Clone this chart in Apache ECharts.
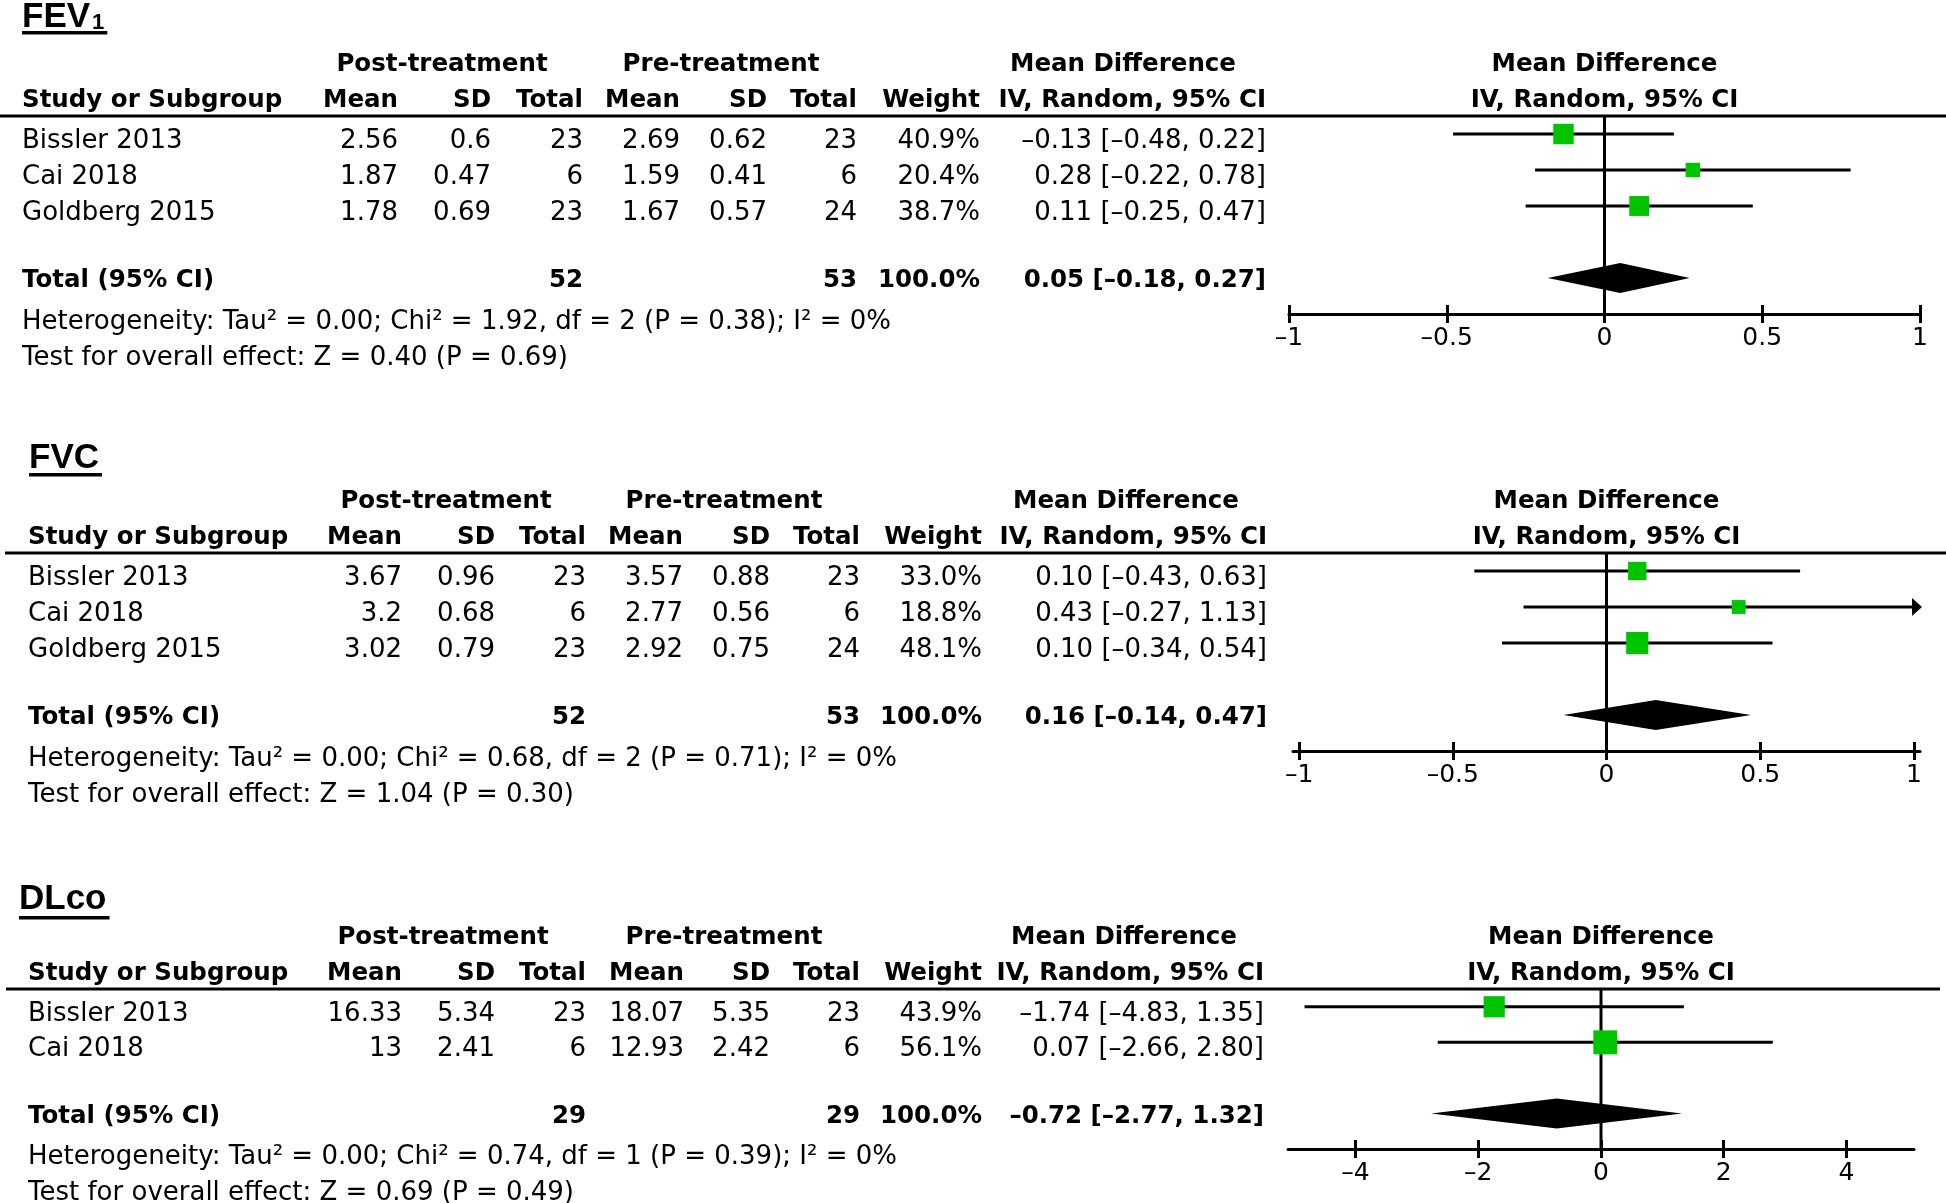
<!DOCTYPE html>
<html><head><meta charset="utf-8">
<script src="https://cdn.jsdelivr.net/npm/echarts@6/dist/echarts.min.js"></script>
<style>html,body{margin:0;padding:0;background:#fff}#c{width:1946px;height:1203px}</style>
</head><body><div id="c"></div><script>
// ---------------- DATA ----------------
// FEV1
const fevStudies  = ['Bissler 2013', 'Cai 2018', 'Goldberg 2015'];
const fevPostMean = [2.56, 1.87, 1.78];
const fevPostSD   = [0.6, 0.47, 0.69];
const fevPostN    = [23, 6, 23];
const fevPreMean  = [2.69, 1.59, 1.67];
const fevPreSD    = [0.62, 0.41, 0.57];
const fevPreN     = [23, 6, 24];
const fevWeight   = [40.9, 20.4, 38.7];
const fevMD       = [-0.13, 0.28, 0.11];
const fevLo       = [-0.48, -0.22, -0.25];
const fevHi       = [0.22, 0.78, 0.47];
const fevTotal    = [52, 53, 0.05, -0.18, 0.27]; // postN, preN, MD, lo, hi
const fevHet      = 'Heterogeneity: Tau² = 0.00; Chi² = 1.92, df = 2 (P = 0.38); I² = 0%';
const fevTest     = 'Test for overall effect: Z = 0.40 (P = 0.69)';
const fevTicks    = [-1, -0.5, 0, 0.5, 1];

// FVC
const fvcStudies  = ['Bissler 2013', 'Cai 2018', 'Goldberg 2015'];
const fvcPostMean = [3.67, 3.2, 3.02];
const fvcPostSD   = [0.96, 0.68, 0.79];
const fvcPostN    = [23, 6, 23];
const fvcPreMean  = [3.57, 2.77, 2.92];
const fvcPreSD    = [0.88, 0.56, 0.75];
const fvcPreN     = [23, 6, 24];
const fvcWeight   = [33.0, 18.8, 48.1];
const fvcMD       = [0.10, 0.43, 0.10];
const fvcLo       = [-0.43, -0.27, -0.34];
const fvcHi       = [0.63, 1.13, 0.54];
const fvcTotal    = [52, 53, 0.16, -0.14, 0.47];
const fvcHet      = 'Heterogeneity: Tau² = 0.00; Chi² = 0.68, df = 2 (P = 0.71); I² = 0%';
const fvcTest     = 'Test for overall effect: Z = 1.04 (P = 0.30)';
const fvcTicks    = [-1, -0.5, 0, 0.5, 1];

// DLco
const dlStudies  = ['Bissler 2013', 'Cai 2018'];
const dlPostMean = [16.33, 13];
const dlPostSD   = [5.34, 2.41];
const dlPostN    = [23, 6];
const dlPreMean  = [18.07, 12.93];
const dlPreSD    = [5.35, 2.42];
const dlPreN     = [23, 6];
const dlWeight   = [43.9, 56.1];
const dlMD       = [-1.74, 0.07];
const dlLo       = [-4.83, -2.66];
const dlHi       = [1.35, 2.80];
const dlTotal    = [29, 29, -0.72, -2.77, 1.32];
const dlHet      = 'Heterogeneity: Tau² = 0.00; Chi² = 0.74, df = 1 (P = 0.39); I² = 0%';
const dlTest     = 'Test for overall effect: Z = 0.69 (P = 0.49)';
const dlTicks    = [-4, -2, 0, 2, 4];

const colHeaders = ['Mean', 'SD', 'Total', 'Mean', 'SD', 'Total', 'Weight'];

// ---------------- LAYOUT ----------------
const panels = [
  { title: 'FEV', sub: '1', studies: fevStudies, cols: [fevPostMean, fevPostSD, fevPostN, fevPreMean, fevPreSD, fevPreN],
    weight: fevWeight, md: fevMD, lo: fevLo, hi: fevHi, total: fevTotal, het: fevHet, test: fevTest, ticks: fevTicks,
    axMin: -1, axMax: 1,
    L: { titleX: 22, titleY: 17, ulY: 31, gridLeft: 1289, gridWidth: 631, lineY: 116, axisY: 314, studyX: 22,
         colX: [398, 491, 583, 680, 767, 857, 980], ciX: 1266, postC: 442, preC: 721, mdC: 1123, lineX0: 0, lineX1: 1946 } },
  { title: 'FVC', sub: '', studies: fvcStudies, cols: [fvcPostMean, fvcPostSD, fvcPostN, fvcPreMean, fvcPreSD, fvcPreN],
    weight: fvcWeight, md: fvcMD, lo: fvcLo, hi: fvcHi, total: fvcTotal, het: fvcHet, test: fvcTest, ticks: fvcTicks,
    axMin: -1.02, axMax: 1.02,
    L: { titleX: 29, titleY: 458, ulY: 473, gridLeft: 1293, gridWidth: 627, lineY: 553, axisY: 751, studyX: 28,
         colX: [402, 495, 586, 683, 770, 860, 982], ciX: 1267, postC: 446, preC: 724, mdC: 1126, lineX0: 5, lineX1: 1946 } },
  { title: 'DLco', sub: '', studies: dlStudies, cols: [dlPostMean, dlPostSD, dlPostN, dlPreMean, dlPreSD, dlPreN],
    weight: dlWeight, md: dlMD, lo: dlLo, hi: dlHi, total: dlTotal, het: dlHet, test: dlTest, ticks: dlTicks,
    axMin: -5.1, axMax: 5.1,
    L: { titleX: 19, titleY: 899, ulY: 916, gridLeft: 1288, gridWidth: 626, lineY: 989, axisY: 1149, studyX: 28,
         colX: [402, 495, 586, 684, 770, 860, 982], ciX: 1264, postC: 443, preC: 724, mdC: 1124, lineX0: 6, lineX1: 1940 } }
];

const TXT_DY = 3;
const REG = '26px "DejaVu Sans"';
const BOLD = 'bold 24.5px "DejaVu Sans"';
const TITLE = 'bold 35px "Liberation Sans"';
const SUB = 'bold 22px "Liberation Sans"';
const MINUS = '\u2013';
function fmtNeg(s) { return String(s).replace('-', MINUS); }
function fmt2(v) { return (v < 0 ? MINUS : '') + Math.abs(v).toFixed(2); }
function ciText(m, l, h) { return fmt2(m) + ' [' + fmt2(l) + ', ' + fmt2(h) + ']'; }

const measureCtx = document.createElement('canvas').getContext('2d');
function textW(str, font) { measureCtx.font = font; return measureCtx.measureText(str).width; }

// ---------------- CHART ----------------
const chart = echarts.init(document.getElementById('c'), null, { renderer: 'canvas' });

const grids = [], xAxes = [], yAxes = [], series = [];
panels.forEach((P, p) => {
  const L = P.L, n = P.studies.length;
  const gh = L.axisY - L.lineY;
  grids.push({ left: L.gridLeft, width: L.gridWidth, top: L.lineY, height: gh, containLabel: false });
  xAxes.push({
    gridIndex: p, type: 'value', min: P.axMin, max: P.axMax, position: 'bottom',
    axisLine: { show: true, onZero: false, lineStyle: { color: '#000', width: 3 } },
    axisTick: { show: true, customValues: P.ticks, inside: false, length: 9, lineStyle: { color: '#000', width: 3 } },
    axisLabel: { show: true, customValues: P.ticks, margin: 12, color: '#000', fontFamily: 'DejaVu Sans', fontSize: 25,
                 formatter: v => fmtNeg(v) },
    splitLine: { show: false }
  });
  xAxes.push({
    gridIndex: p, type: 'value', min: P.axMin, max: P.axMax, position: 'top', offset: -gh,
    axisLine: { show: false, onZero: false },
    axisTick: { show: true, customValues: P.ticks, inside: false, length: 9, lineStyle: { color: '#000', width: 3 } },
    axisLabel: { show: false }, splitLine: { show: false }
  });
  yAxes.push({ gridIndex: p, type: 'value', min: -0.5, max: n + 2, inverse: true, show: false });

  series.push({
    type: 'custom', xAxisIndex: 2 * p, yAxisIndex: p, z: 1, silent: true,
    data: [[0, 0]],
    renderItem(params, api) {
      const cs = params.coordSys;
      const x = api.coord([api.value(0), 0])[0];
      return { type: 'line', shape: { x1: x, y1: cs.y, x2: x, y2: cs.y + cs.height },
               style: { stroke: '#000', lineWidth: 3 } };
    }
  });
  series.push({
    type: 'custom', xAxisIndex: 2 * p, yAxisIndex: p, z: 3, silent: true,
    data: P.studies.map((s, i) => [P.md[i], i, P.lo[i], P.hi[i], P.weight[i]]),
    renderItem(params, api) {
      const cs = params.coordSys;
      const row = api.value(1);
      const c = api.coord([api.value(0), row]);
      let xl = api.coord([api.value(2), row])[0];
      let xr = api.coord([api.value(3), row])[0];
      const xMin = cs.x, xMax = cs.x + cs.width, y = c[1];
      const arrowR = xr > xMax + 0.5, arrowL = xl < xMin - 0.5;
      xl = Math.max(xl, xMin); xr = Math.min(xr, xMax + 2);
      const ch = [];
      ch.push({ type: 'line', shape: { x1: arrowL ? xl + 8 : xl, y1: y, x2: arrowR ? xr - 8 : xr, y2: y },
                style: { stroke: '#000', lineWidth: 3 } });
      if (arrowR) ch.push({ type: 'polygon', shape: { points: [[xr - 10, y - 9], [xr, y], [xr - 10, y + 9]] }, style: { fill: '#000' } });
      if (arrowL) ch.push({ type: 'polygon', shape: { points: [[xl + 10, y - 9], [xl, y], [xl + 10, y + 9]] }, style: { fill: '#000' } });
      const s = 3.2 * Math.sqrt(api.value(4));
      ch.push({ type: 'rect', shape: { x: c[0] - s / 2, y: y - s / 2, width: s, height: s }, style: { fill: '#00c400' } });
      return { type: 'group', children: ch };
    }
  });
  series.push({
    type: 'custom', xAxisIndex: 2 * p, yAxisIndex: p, z: 3, silent: true,
    data: [[P.total[2], n + 1, P.total[3], P.total[4]]],
    renderItem(params, api) {
      const row = api.value(1);
      const c = api.coord([api.value(0), row]);
      const xl = api.coord([api.value(2), row])[0];
      const xr = api.coord([api.value(3), row])[0];
      const h = 15;
      return { type: 'polygon', shape: { points: [[xl, c[1]], [c[0], c[1] - h], [xr, c[1]], [c[0], c[1] + h]] },
               style: { fill: '#000' } };
    }
  });
});

chart.setOption({
  backgroundColor: '#fff', animation: false,
  grid: grids, xAxis: xAxes, yAxis: yAxes, series: series
});

// ---------------- TABLE TEXT ----------------
function T(x, y, str, align, font) {
  return { type: 'text', x: x, y: y, silent: true,
           style: { text: str, font: font, fill: '#000', align: align, verticalAlign: 'middle',
                    textAlign: align, textVerticalAlign: 'middle' } };
}
const gfx = [];
panels.forEach((P, p) => {
  const L = P.L, n = P.studies.length;
  const rowY = i => chart.convertToPixel({ gridIndex: p }, [0, i])[1];
  const plotC = L.gridLeft + L.gridWidth / 2;
  gfx.push(T(L.titleX, L.titleY, P.title, 'left', TITLE));
  let tw = textW(P.title, TITLE);
  if (P.sub) {
    gfx.push(T(L.titleX + tw + 2, L.titleY + 6, P.sub, 'left', SUB));
    tw += 2 + textW(P.sub, SUB);
  }
  gfx.push({ type: 'rect', silent: true, shape: { x: L.titleX, y: L.ulY, width: tw + 3, height: 3.5 }, style: { fill: '#000' } });
  const h1 = L.lineY - 54 + TXT_DY, h2 = L.lineY - 18 + TXT_DY;
  gfx.push(T(L.postC, h1, 'Post-treatment', 'center', BOLD));
  gfx.push(T(L.preC, h1, 'Pre-treatment', 'center', BOLD));
  gfx.push(T(L.mdC, h1, 'Mean Difference', 'center', BOLD));
  gfx.push(T(plotC, h1, 'Mean Difference', 'center', BOLD));
  gfx.push(T(L.studyX, h2, 'Study or Subgroup', 'left', BOLD));
  colHeaders.forEach((h, k) => gfx.push(T(L.colX[k], h2, h, 'right', BOLD)));
  gfx.push(T(L.ciX, h2, 'IV, Random, 95% CI', 'right', BOLD));
  gfx.push(T(plotC, h2, 'IV, Random, 95% CI', 'center', BOLD));
  gfx.push({ type: 'line', silent: true, shape: { x1: L.lineX0, y1: L.lineY, x2: L.lineX1, y2: L.lineY },
             style: { stroke: '#000', lineWidth: 3 } });
  P.studies.forEach((s, i) => {
    const y = rowY(i) + 4 + TXT_DY;
    gfx.push(T(L.studyX, y, s, 'left', REG));
    P.cols.forEach((arr, k) => gfx.push(T(L.colX[k], y, String(arr[i]), 'right', REG)));
    gfx.push(T(L.colX[6], y, P.weight[i].toFixed(1) + '%', 'right', REG));
    gfx.push(T(L.ciX, y, ciText(P.md[i], P.lo[i], P.hi[i]), 'right', REG));
  });
  const ty = rowY(n + 1) + TXT_DY;
  const totW = P.weight.reduce((a, b) => a + b, 0);
  gfx.push(T(L.studyX, ty, 'Total (95% CI)', 'left', BOLD));
  gfx.push(T(L.colX[2], ty, String(P.total[0]), 'right', BOLD));
  gfx.push(T(L.colX[5], ty, String(P.total[1]), 'right', BOLD));
  gfx.push(T(L.colX[6], ty, Math.round(totW).toFixed(1) + '%', 'right', BOLD));
  gfx.push(T(L.ciX, ty, ciText(P.total[2], P.total[3], P.total[4]), 'right', BOLD));
  gfx.push(T(L.studyX, ty + 41, P.het, 'left', REG));
  gfx.push(T(L.studyX, ty + 77, P.test, 'left', REG));
});
chart.setOption({ graphic: { elements: gfx } });
</script></body></html>
